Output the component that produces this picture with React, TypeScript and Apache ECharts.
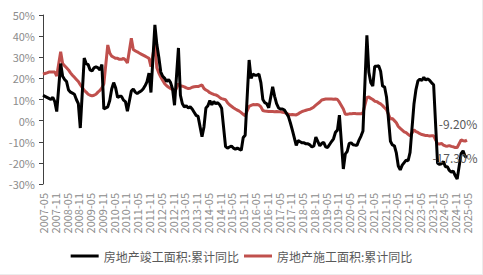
import React, { useEffect, useRef } from "react";
import * as echarts from "echarts";

// Monthly categories 2007-05 .. 2025-05
const START_YEAR = 2007;
const START_MONTH = 5;
const END_YEAR = 2025;
const END_MONTH = 5;
const categories: string[] = [];
for (let y = START_YEAR; y <= END_YEAR; y++) {
  for (let m = 1; m <= 12; m++) {
    if (y === START_YEAR && m < START_MONTH) continue;
    if (y === END_YEAR && m > END_MONTH) break;
    categories.push(`${y}-${String(m).padStart(2, "0")}`);
  }
}

const seriesNames = ["房地产竣工面积:累计同比", "房地产施工面积:累计同比"];

// 房地产竣工面积:累计同比 (%), January not published (null)
const completedYoY: (number | null)[] = [
  // 2007 May-Dec
  12, 11.5, 11, 10.5, 10, 11, 9, 4.3,
  // 2008
  null, 27, 21, 19.5, 18.5, 14.5, 13.5, 13, 12.5, 10, 8, -3.5,
  // 2009
  null, 29.6, 27, 26.5, 24, 23.5, 25, 25.5, 25, 24, 26.5, 5.5,
  // 2010
  null, 6.5, 9.5, 15, 18, 15.5, 11, 11.5, 11.5, 9.7, 9, 4.5,
  // 2011
  null, 14, 15, 13.5, 12.8, 13.5, 14, 15, 16.5, 18.5, 22.5, 13.3,
  // 2012
  null, 45.3, 36, 30, 23, 21, 20, 18.5, 19.5, 18, 15, 7.3,
  // 2013
  null, 34.4, 12, 8, 6.5, 7, 6, 6.5, 5.5, 4, 2.5, 2.0,
  // 2014
  null, -7.6, -3, 6, 7, 9.5, 7.5, 9, 8, 8.5, 7.5, 5.9,
  // 2015
  null, -12.3, -13, -12.5, -12, -13, -13.5, -13, -13.5, -14, -8, -6.9,
  // 2016
  null, 28.7, 20, 22, 21.5, 21.5, 22, 18, 10, 8.5, 8, 6.1,
  // 2017
  null, 16, 11.5, 8, 6, 5.5, 5.5, 5, 3.5, 2, -1, -4.4,
  // 2018
  null, -11.7, -9.5, -10, -10.5, -10.5, -11, -11, -11.5, -12.5, -12, -7.8,
  // 2019
  null, -11.9, -10.8, -10.3, -12.4, -12.7, -11.3, -9.9, -8.6, -5.5, -4.5, 2.6,
  // 2020
  null, -22.9, -15.8, -14.5, -10.8, -10.5, -11.4, -11.6, -11.6, -9.2, -7.3, -4.9,
  // 2021
  null, 40.4, 22.9, 17.9, 16.4, 25.7, 25.7, 26.0, 23.4, 16.3, 16.0, 11.2,
  // 2022
  null, -9.8, -11.5, -11.9, -15.3, -21.5, -23.3, -21.1, -19.9, -18.7, -19.0, -15.0,
  // 2023
  null, 8.0, 14.7, 18.8, 19.6, 19.0, 20.5, 19.2, 19.8, 19.0, 17.9, 17.0,
  // 2024
  null, -20.2, -20.7, -20.4, -19.4, -21.8, -21.8, -23.6, -24.4, -23.9, -26.0, -27.7,
  // 2025 Jan-May
  null, -15.6, -14.3, -16.9, -17.3,
];

// 房地产施工面积:累计同比 (%)
const constructionYoY: (number | null)[] = [
  // 2007 May-Dec
  22, 22.3, 22.6, 23, 23, 23, 23, 21.1,
  // 2008
  null, 32.6, 27, 26, 25, 24, 22.6, 21.5, 20.5, 19.5, 18.5, 17,
  // 2009
  null, 14.3, 13.5, 12.5, 12, 11.7, 12, 12.5, 13.5, 14.3, 15.5, 17.4,
  // 2010
  null, 35.8, 32, 30.5, 30, 29.5, 29.5, 29, 29, 29.5, 28.7, 27.3,
  // 2011
  null, 39, 33.7, 33, 32.6, 32, 31.5, 31, 30.5, 30, 29.5, 25.5,
  // 2012
  null, 36.6, 25, 22.5, 20.6, 19, 17.5, 16.5, 15.8, 15.2, 14.8, 13.2,
  // 2013
  null, 17.5, 16.5, 16.3, 16, 15.5, 15.2, 15.3, 15.8, 16, 16.1, 16.1,
  // 2014
  null, 16.9, 15.2, 14.5, 14, 13.2, 12.8, 12.4, 12.2, 11.7, 11, 10.4,
  // 2015
  null, 9.9, 8.5, 7.5, 6.8, 6.1, 5.5, 5, 4.5, 3.8, 3, 2.3,
  // 2016
  null, 6.8, 7.2, 7.6, 7.5, 7.6, 7.4, 6.5, 4.8, 4.5, 4.4, 4.3,
  // 2017
  null, 4.3, 4.2, 4.3, 4.2, 4.2, 4.0, 3.8, 3.5, 3.0, 2.8, 2.9,
  // 2018
  null, 2.7, 3.2, 3.8, 4.3, 4.6, 4.9, 5.2, 5.4, 5.9, 6.5, 7.3,
  // 2019
  null, 8.8, 9.8, 10, 10.2, 10.2, 10.2, 10.2, 10.1, 10.2, 10, 8.7,
  // 2020
  null, 5.5, 3.0, 3.0, 3.2, 3.2, 3.4, 3.4, 3.2, 3.2, 3.2, 3.7,
  // 2021
  null, 11.0, 11.2, 10.5, 10.0, 9.2, 9.0, 8.4, 7.9, 7.1, 6.1, 5.2,
  // 2022
  null, 0.7, 1.0, 0.0, -1.0, -2.8, -3.7, -4.5, -5.3, -5.7, -6.5, -7.2,
  // 2023
  null, -4.4, -5.2, -5.6, -6.2, -6.6, -6.8, -7.1, -7.1, -7.3, -7.2, -7.2,
  // 2024
  null, -11.0, -11.1, -10.8, -11.6, -12.0, -12.1, -11.8, -12.2, -12.4, -12.7, -12.7,
  // 2025 Jan-May
  null, -9.1, -9.5, -9.7, -9.2,
];

const Y_MIN = -30;
const Y_MAX = 50;
const Y_STEP = 10;

const FONT = '"Noto Sans CJK SC", "Noto Sans", sans-serif';

export default function App() {
  const ref = useRef<HTMLDivElement>(null);

  useEffect(() => {
    if (!ref.current) return;
    const chart = echarts.init(ref.current, undefined, { renderer: "svg" });
    const endFmt = (p: any) => {
      const v = Array.isArray(p.value) ? p.value[p.value.length - 1] : p.value;
      return `${Number(v).toFixed(2)}%`;
    };
    chart.setOption({
      animation: false,
      backgroundColor: "#ffffff",
      textStyle: { fontFamily: FONT },
      grid: { left: 43, right: 16, top: 15, bottom: 91, containLabel: false },
      legend: {
        data: seriesNames,
        left: "center",
        top: 245,
        icon: "rect",
        itemWidth: 28,
        itemHeight: 3,
        itemGap: 5,
        textStyle: { color: "#595959", fontSize: 12, fontFamily: FONT },
      },
      xAxis: {
        type: "category",
        data: categories,
        boundaryGap: false,
        axisLine: { show: false },
        axisTick: { show: false },
        axisLabel: {
          interval: 5,
          rotate: 90,
          color: "#8c8c8c",
          fontSize: 11,
          margin: 9,
          fontFamily: FONT,
        },
        splitLine: { show: false },
      },
      yAxis: {
        type: "value",
        min: Y_MIN,
        max: Y_MAX,
        interval: Y_STEP,
        axisLine: { show: true, lineStyle: { color: "#404040", width: 1 } },
        axisTick: { show: true, length: 4, lineStyle: { color: "#404040" } },
        axisLabel: {
          formatter: "{value}%",
          color: "#8c8c8c",
          fontSize: 11,
          margin: 8,
          fontFamily: FONT,
        },
        splitLine: { show: false },
      },
      series: [
        {
          name: seriesNames[0],
          type: "line",
          data: completedYoY,
          connectNulls: true,
          symbol: "none",
          color: "#000000",
          lineStyle: { color: "#000000", width: 3 },
          z: 3,
          endLabel: {
            show: true,
            formatter: endFmt,
            color: "#595959",
            fontSize: 12,
            align: "center",
            verticalAlign: "middle",
            distance: 0,
            offset: [-12, 0],
          },
        },
        {
          name: seriesNames[1],
          type: "line",
          data: constructionYoY,
          connectNulls: true,
          symbol: "none",
          color: "#C0504D",
          lineStyle: { color: "#C0504D", width: 3 },
          z: 2,
          endLabel: {
            show: true,
            formatter: endFmt,
            color: "#595959",
            fontSize: 12,
            align: "center",
            verticalAlign: "middle",
            distance: 0,
            offset: [-9, -17],
          },
        },
      ],
    });
    return () => chart.dispose();
  }, []);

  return (
    <div style={{ position: "absolute", left: 0, top: 0, width: 483, height: 275 }}>
      <div ref={ref} style={{ position: "absolute", left: 0, top: 0, width: 483, height: 275 }} />
      <div
        style={{
          position: "absolute",
          left: 0,
          top: 0,
          width: 483,
          height: 275,
          boxSizing: "border-box",
          borderRight: "1px solid #ececec",
          borderBottom: "1px solid #ececec",
          pointerEvents: "none",
        }}
      />
    </div>
  );
}
